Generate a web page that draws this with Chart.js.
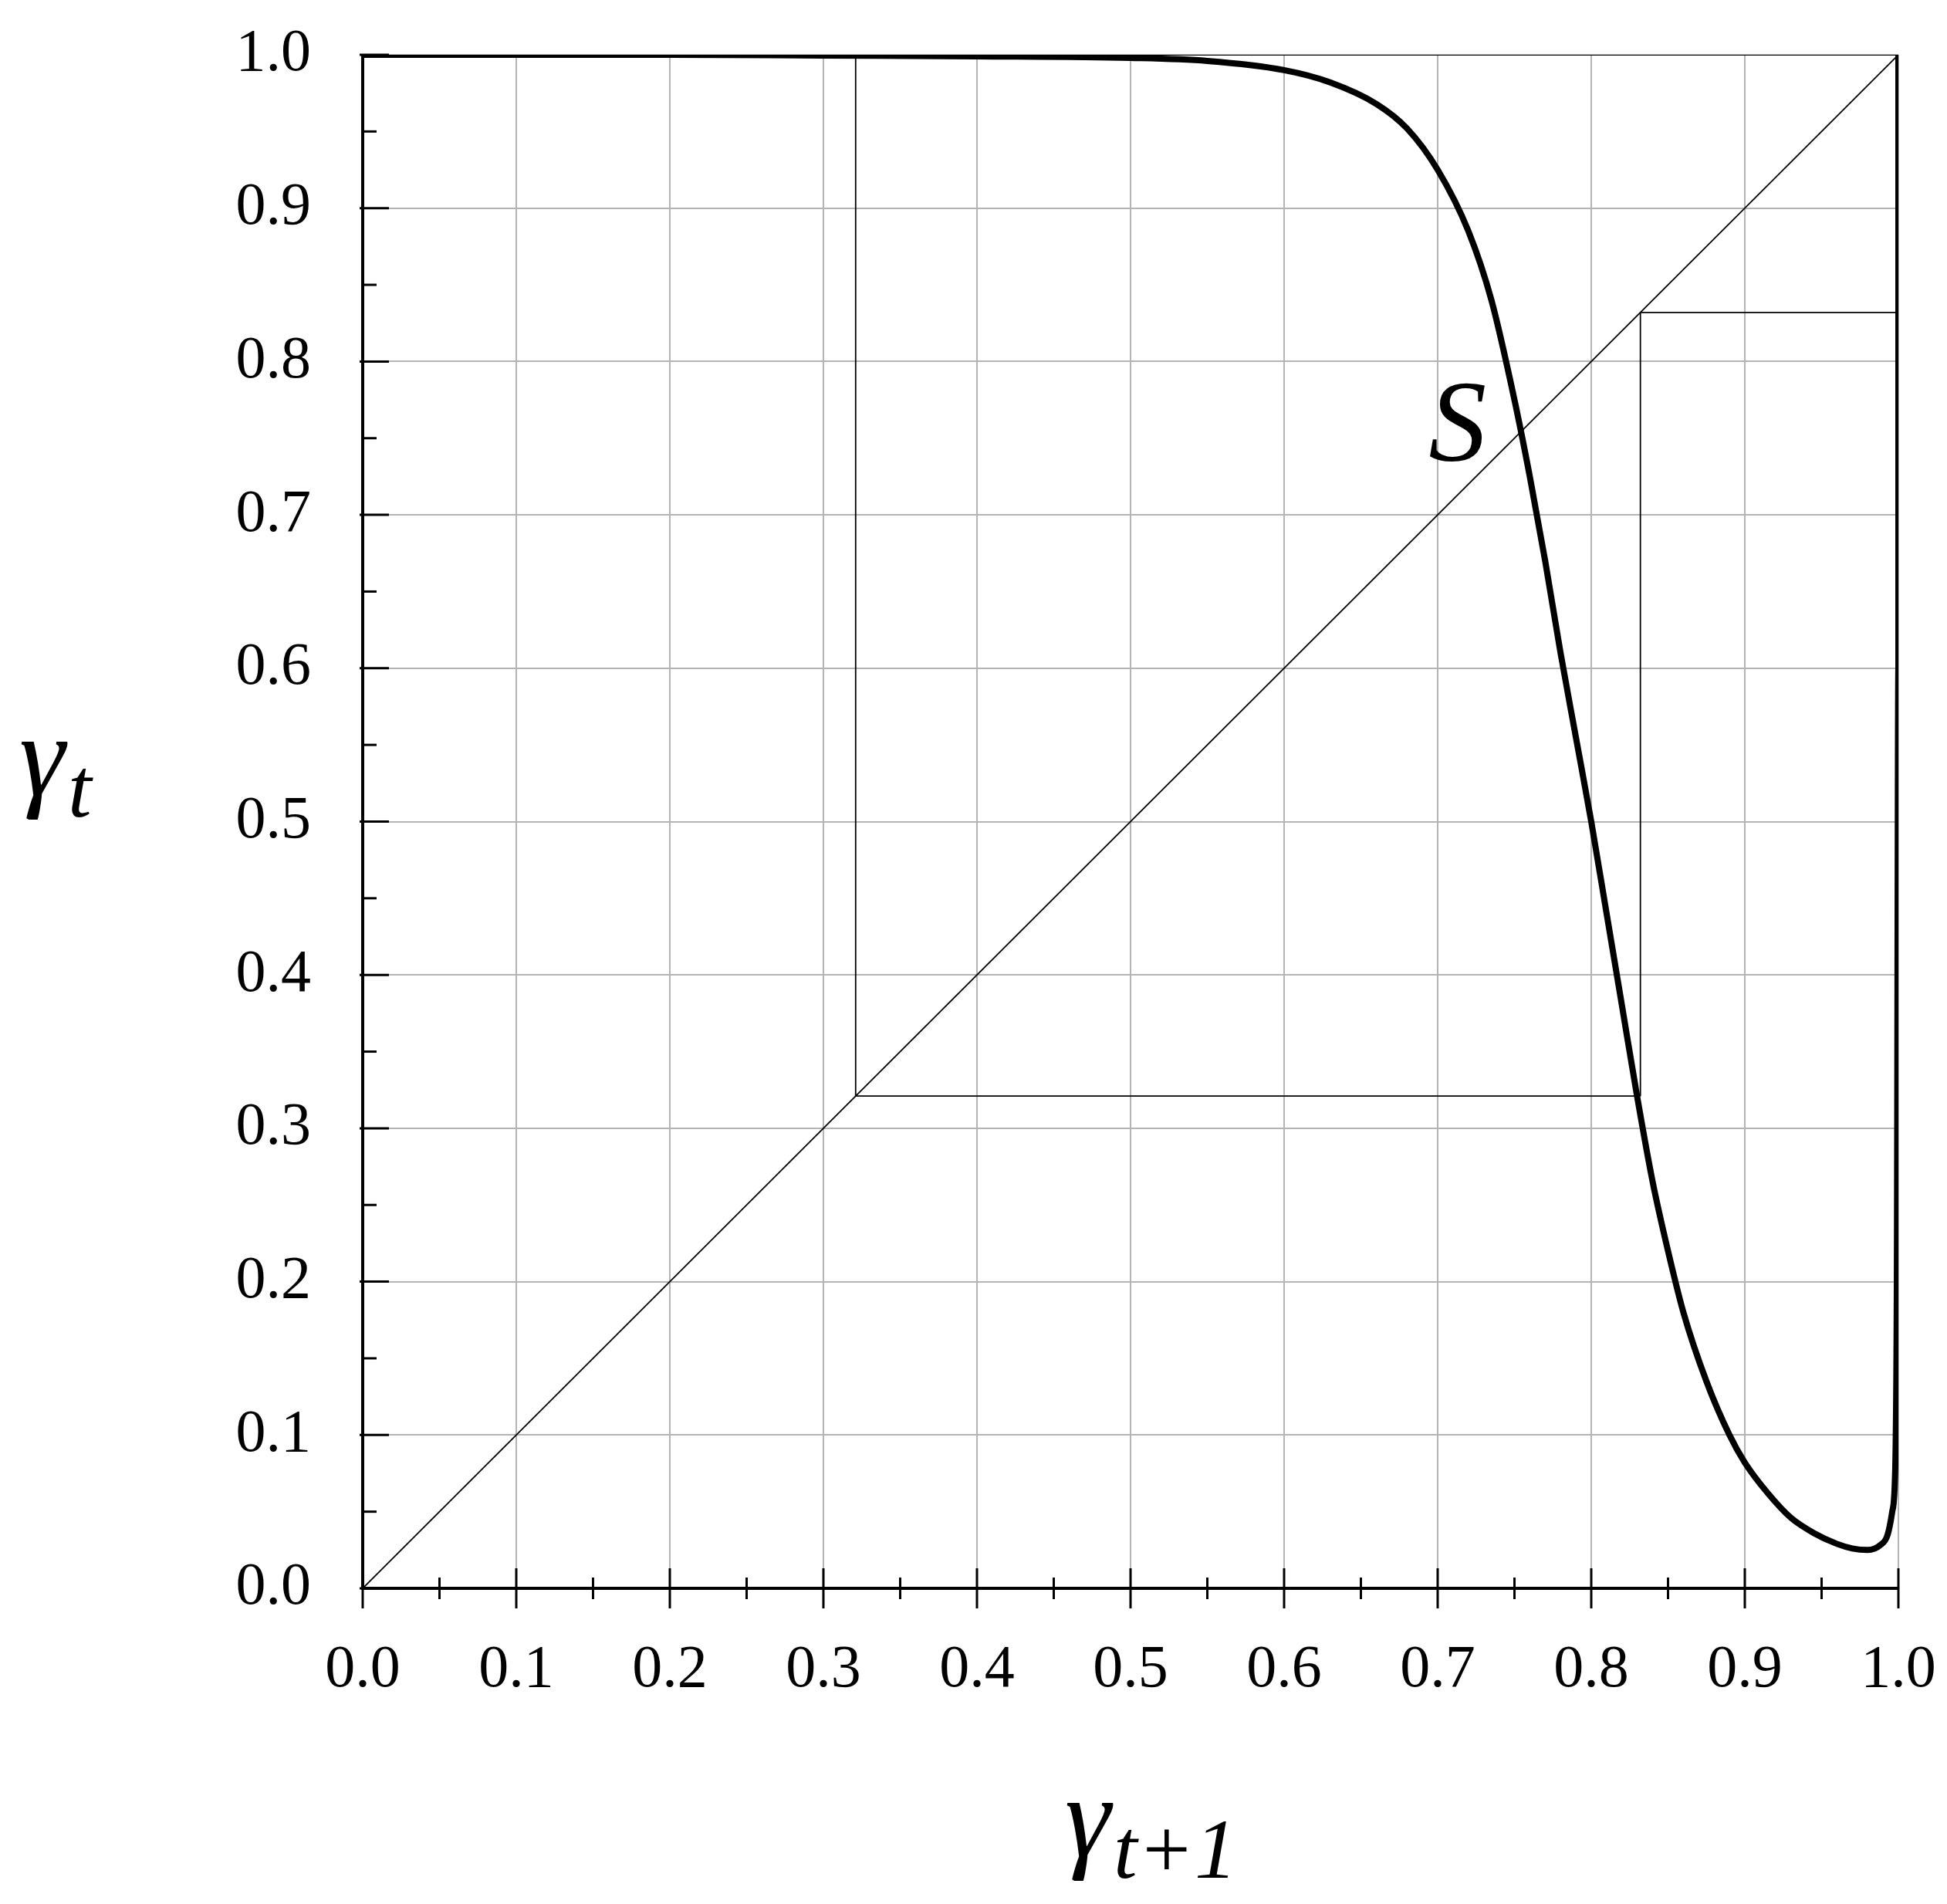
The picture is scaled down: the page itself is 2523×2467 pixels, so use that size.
<!DOCTYPE html>
<html><head><meta charset="utf-8">
<script src="https://cdn.jsdelivr.net/npm/chart.js@4/dist/chart.umd.min.js"></script>
<style>html,body{margin:0;padding:0;background:#fff}#w{width:2523px;height:2467px}</style>
</head><body><div id="w"><canvas id="c"></canvas></div>
<script>
const curveX=[0,0.1,0.2,0.3,0.4,0.5,0.55,0.6,0.63,0.66,0.68,0.7,0.72,0.735,0.75,0.76,0.77,0.78,0.79,0.8,0.81,0.82,0.83,0.84,0.85,0.86,0.875,0.89,0.9,0.915,0.93,0.945,0.96,0.97,0.98,0.988,0.993,0.996,0.998,0.999,1.0,1.0];
const curveY=[1,1,1,0.9995,0.999,0.998,0.996,0.99,0.982,0.968,0.952,0.925,0.885,0.84,0.775,0.725,0.67,0.61,0.555,0.5,0.44,0.38,0.32,0.265,0.22,0.18,0.135,0.1,0.082,0.062,0.046,0.036,0.029,0.026,0.025,0.028,0.035,0.05,0.08,0.2,0.6,1.0];
const diagX=[0,1],diagY=[0,1];
const cobSegs=[[[0.321,1.0],[0.321,0.321]],[[0.321,1.0],[1.0,1.0]],[[0.321,0.321],[0.832,0.321]],[[0.832,0.321],[0.832,0.832]],[[0.832,0.832],[1.0,0.832]]];
const tickVals=[0,0.1,0.2,0.3,0.4,0.5,0.6,0.7,0.8,0.9,1.0];
const tickLabels=['0.0','0.1','0.2','0.3','0.4','0.5','0.6','0.7','0.8','0.9','1.0'];
const toPts=(xs,ys)=>xs.map((x,i)=>({x:x,y:ys[i]}));
const datasets=[
 {data:toPts(curveX,curveY),borderColor:'#000',borderWidth:8,showLine:true,pointRadius:0,cubicInterpolationMode:'monotone'},
 {data:toPts(diagX,diagY),borderColor:'#000',borderWidth:1.8,showLine:true,pointRadius:0}
];
cobSegs.forEach(s=>datasets.push({data:s.map(p=>({x:p[0],y:p[1]})),borderColor:'#000',borderWidth:1.8,showLine:true,pointRadius:0}));
const F='"Liberation Serif", serif';
function sub(c,x,y,a,b){c.textAlign='left';c.textBaseline='alphabetic';c.font='italic 150px '+F;c.fillText(a,x,y);
 const w=c.measureText(a).width;c.font='italic 110px '+F;c.fillText(b,x+w+4,y+28);}
const deco={id:'deco',afterDraw(ch){
 const c=ch.ctx,xs=ch.scales.x,ys=ch.scales.y,a=ch.chartArea;
 c.save();c.strokeStyle='#000';c.lineWidth=4;
 c.beginPath();c.moveTo(a.left,a.top);c.lineTo(a.left,a.bottom);c.lineTo(a.right,a.bottom);c.stroke();
 c.lineWidth=3;
 for(let i=0;i<=20;i++){const v=i/20,maj=i%2==0;
  const px=xs.getPixelForValue(v);c.beginPath();
  if(maj){c.moveTo(px,a.bottom-26);c.lineTo(px,a.bottom+26);}else{c.moveTo(px,a.bottom-14);c.lineTo(px,a.bottom+14);}
  c.stroke();
  const py=ys.getPixelForValue(v);c.beginPath();
  if(maj){c.moveTo(a.left-4,py);c.lineTo(a.left+34,py);}else{c.moveTo(a.left,py);c.lineTo(a.left+18,py);}
  c.stroke();}
 c.fillStyle='#000';c.font='78px '+F;
 tickVals.forEach((v,i)=>{
  c.textAlign='right';c.textBaseline='middle';c.fillText(tickLabels[i],403,ys.getPixelForValue(v));
  c.textAlign='center';c.fillText(tickLabels[i],xs.getPixelForValue(v),2165);});
 c.textAlign='center';c.textBaseline='middle';c.font='italic 150px '+F;
 c.fillText('S',xs.getPixelForValue(0.713),ys.getPixelForValue(0.755));
 sub(c,25,1030,'γ','t');
 sub(c,1380,2405,'γ','t+1');
 c.restore();}};
new Chart(document.getElementById('c'),{type:'scatter',data:{datasets},
 options:{responsive:true,maintainAspectRatio:false,animation:false,
  layout:{padding:{top:71,right:63,left:0,bottom:0}},
  plugins:{legend:{display:false},tooltip:{enabled:false}},
  scales:{
   x:{type:'linear',min:0,max:1,afterFit(s){s.height=409;},
    afterBuildTicks(s){s.ticks=tickVals.map(v=>({value:v}));},
    grid:{color:'#b4b4b4',lineWidth:2,drawTicks:false},border:{display:false},
    ticks:{display:false}},
   y:{type:'linear',min:0,max:1,afterFit(s){s.width=470;},
    afterBuildTicks(s){s.ticks=tickVals.map(v=>({value:v}));},
    grid:{color:'#b4b4b4',lineWidth:2,drawTicks:false},border:{display:false},
    ticks:{display:false}}
  }},plugins:[deco]});
</script></body></html>
